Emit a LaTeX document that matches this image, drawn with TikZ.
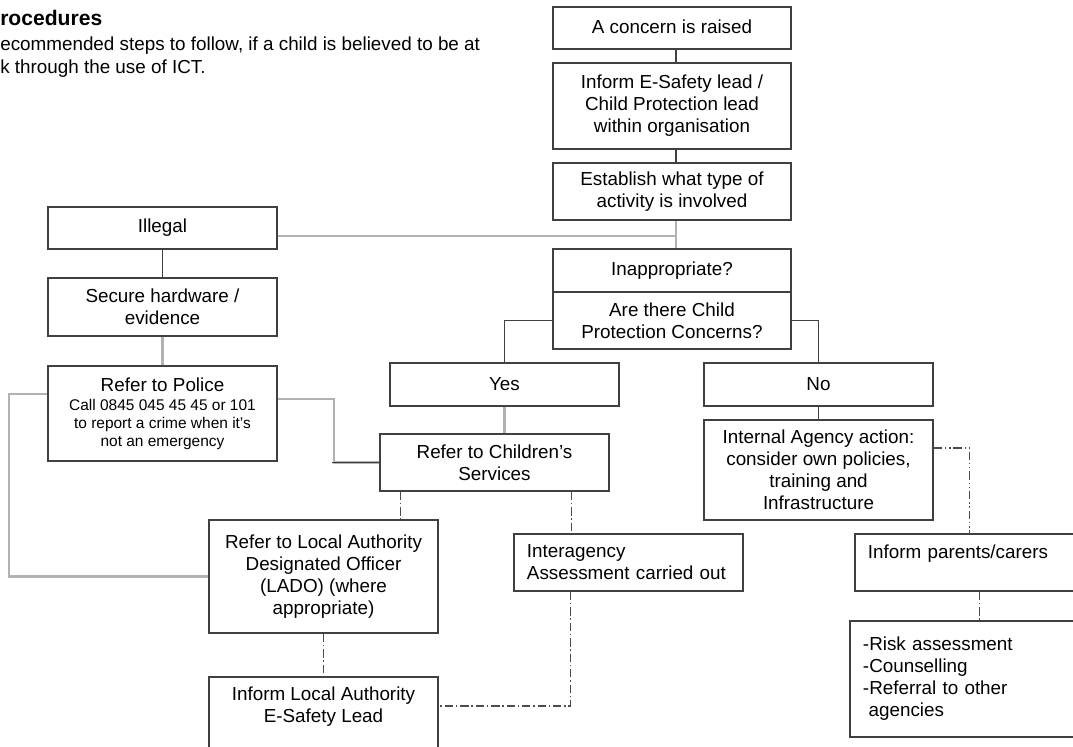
\documentclass[tikz,border=0pt]{standalone}
\usepackage{fontspec}
\setmainfont{Liberation Sans}
\usetikzlibrary{positioning,calc}
\tikzset{
	stepbox/.style={rectangle, draw=black!75, line width=1pt, minimum width=5.725cm, align=center, inner sep=2pt, font=\fontsize{13.4}{15.6}\selectfont},
	widebox/.style={stepbox, minimum width=5.95cm},
	leftbox/.style={stepbox, align=left, text width=5.075cm, inner xsep=0.325cm}
}
\tikzset{
	darkline/.style={draw=black!75, line width=1.1pt},
	greyline/.style={draw=black!30, line width=1.5pt},
	dashdotline/.style={draw=black!70, line width=0.8pt, dash pattern=on 6pt off 2pt on 1pt off 2pt},
	dashdotdotline/.style={draw=black!70, line width=0.8pt, dash pattern=on 6pt off 2pt on 1pt off 2pt on 1pt off 2pt}
}
\newcommand{\policefont}{\fontsize{11}{13}\selectfont}

\begin{document}
\begin{tikzpicture}[x=0.025cm, y=-0.025cm]
		\useasboundingbox (0,0) rectangle (1073,747);
		\clip (0,0) rectangle (1073,747);
		
		%text
		\node[anchor=base west, inner sep=0pt, font=\bfseries\fontsize{15}{18}\selectfont] at (0,26) (title) {rocedures};
		\node[anchor=base west, inner sep=0pt, font=\fontsize{13.4}{15.6}\selectfont] at (0,51) (intro1) {ecommended steps to follow, if a child is believed to be at};
		\node[anchor=base west, inner sep=0pt, font=\fontsize{13.4}{15.6}\selectfont] at (0,74) (intro2) {k through the use of ICT.};
		
		%boxes
		\node[widebox, minimum height=1.05cm] at (672,28) (concern) {\raisebox{2pt}{A concern is raised}};
		\node[widebox, minimum height=2.15cm] at (672,106) (inform) {Inform E-Safety lead /\\Child Protection lead\\within organisation};
		\node[widebox, minimum height=1.425cm] at (672,191.5) (establish) {Establish what type of\\activity is involved};
		\node[widebox, minimum height=1.075cm] at (672,270.5) (inapp) {Inappropriate?};
		\node[widebox, minimum height=1.425cm] at (672,320.5) (cpconcern) {Are there Child\\Protection Concerns?};
		\node[stepbox, minimum height=1.05cm] at (162.5,228) (illegal) {Illegal};
		\node[stepbox, minimum height=1.45cm] at (162.5,307) (secure) {Secure hardware /\\evidence};
		\node[stepbox, minimum height=2.375cm] at (162.5,413.5) (police) {Refer to Police\\[-2pt]\policefont Call 0845 045 45 45 or 101\\[-3pt]\policefont to report a crime when it’s\\[-3pt]\policefont not an emergency};
		\node[stepbox, minimum height=1.075cm] at (504.5,384.5) (yes) {Yes};
		\node[stepbox, minimum height=1.075cm] at (818.5,384.5) (no) {No};
		\node[stepbox, minimum height=1.425cm] at (494.5,462.5) (children) {Refer to Children’s\\Services};
		\node[stepbox, minimum height=2.5cm] at (818.5,470) (internal) {Internal Agency action:\\consider own policies,\\training and\\Infrastructure};
		\node[stepbox, minimum height=2.825cm] at (323.5,576.5) (lado) {Refer to Local Authority\\Designated Officer\\(LADO) (where\\appropriate)};
		\node[leftbox, minimum height=1.425cm] at (628.5,562.5) (interagency) {Interagency\\Assessment carried out};
		\node[leftbox, minimum height=1.425cm] at (969.5,562.5) (parents) {Inform parents/carers\\\mbox{}};
		\node[leftbox, minimum height=2.9cm] at (964.5,679) (risk) {-Risk assessment\\-Counselling\\-Referral to other\\\hspace*{4pt}agencies};
		\node[stepbox, minimum height=2.5cm] at (323.5,727) (infola) {Inform Local Authority\\E-Safety Lead\\\mbox{}\\\mbox{}};
		
		%Lines
		\draw[darkline] ([xshift=1mm]concern.south) -- ([xshift=1mm]inform.north);
		\draw[darkline] ([xshift=1mm]inform.south) -- ([xshift=1mm]establish.north);
		\draw[greyline] ([xshift=1mm]establish.south) -- ([xshift=1mm]inapp.north);
		\draw[greyline] ([yshift=-1.9mm]illegal.east) -| ([xshift=1mm]establish.south);
		\draw[darkline] (illegal.south) -- (secure.north);
		\draw[greyline] (secure.south) -- (police.north);
		\draw[greyline] ([yshift=3.6mm]police.east) -- ++(56,0) |- (children.west);
		\draw[darkline] (children.west) -- ++(-47,0);
		\draw[greyline] ([yshift=4.9mm]police.west) -- ++(-38,0) |- (lado.west);
		\draw[darkline] (cpconcern.west) -| (yes.north);
		\draw[darkline] (cpconcern.east) -| (no.north);
		\draw[greyline] (yes.south) -- (yes.south |- children.north);
		\draw[darkline] (no.south) -- (internal.north);
		
		\draw[dashdotline] ([xshift=-2.34cm]children.south) -- ([xshift=-2.34cm]children.south |- lado.north);
		\draw[dashdotline] ([xshift=1.925cm]children.south) -- ([xshift=1.925cm]children.south |- interagency.north);
		\draw[dashdotline] ([xshift=-1.44cm]interagency.south) |- ([yshift=5.25mm]infola.east);
		\draw[dashdotline] (lado.south) -- (infola.north);
		\draw[dashdotdotline] ([yshift=5.5mm]internal.east) -| (parents.north);
		\draw[dashdotline] ([xshift=2.4mm]parents.south) -- ([xshift=2.4mm]parents.south |- risk.north);
		
	\end{tikzpicture}
\end{document}
